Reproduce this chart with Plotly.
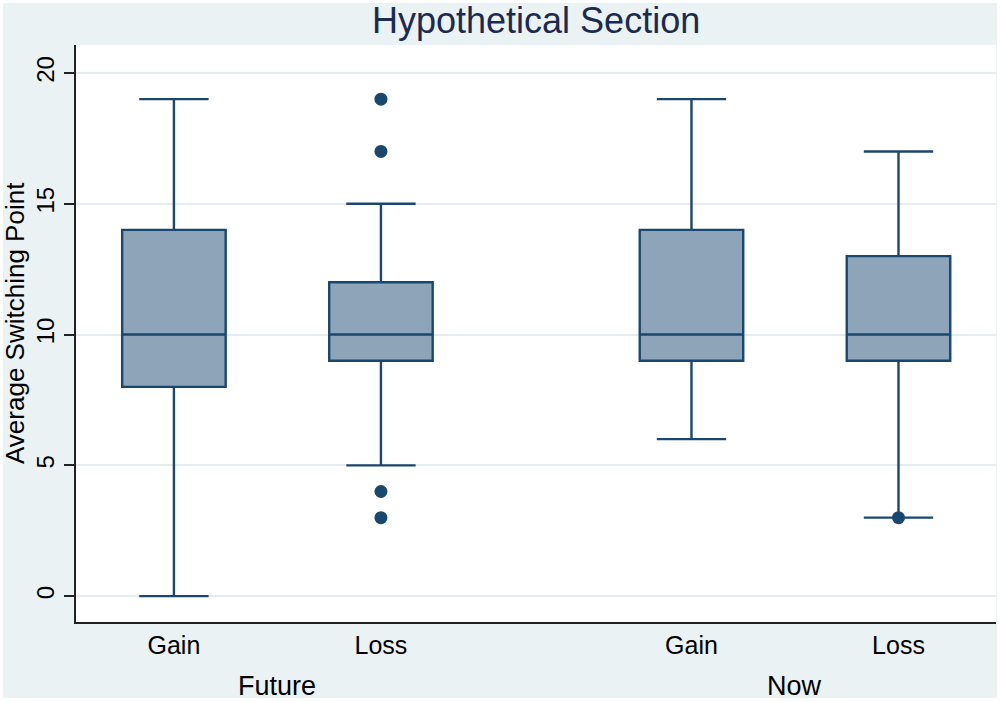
import plotly.graph_objects as go

# data
groups = ["Future", "Now"]
categories = ["Gain", "Loss", "Gain", "Loss"]
lower_whisker = [0, 5, 6, 3]
q1 = [8, 9, 9, 9]
median = [10, 10, 10, 10]
q3 = [14, 12, 14, 13]
upper_whisker = [19, 15, 19, 17]
outlier_box = [1, 1, 1, 1, 3]   # index into categories
outlier_vals = [19, 17, 4, 3, 3]
y_ticks = [0, 5, 10, 15, 20]

# layout helpers (pixel geometry of the picture)
W, H = 1000, 701
L, R, T, B = 76, 996, 45, 622
xpos = [1, 2, 3.5, 4.5]
group_pos = [1.5, 4.0]


def py(p):
    return (B - p) / (B - T)


def px(p):
    return (p - L) / (R - L)


navy = "#1a476f"
bg = "#eaf2f3"
font = "Liberation Sans, Arial, sans-serif"

fig = go.Figure()

fig.add_trace(go.Box(
    x=xpos,
    q1=q1, median=median, q3=q3,
    lowerfence=lower_whisker, upperfence=upper_whisker,
    boxpoints=False,
    width=0.5,
    whiskerwidth=0.67,
    fillcolor="#8ea5b9",
    line=dict(color=navy, width=2.4),
    showlegend=False,
    hoverinfo="skip",
))

fig.add_trace(go.Scatter(
    x=[xpos[i] for i in outlier_box],
    y=outlier_vals,
    mode="markers",
    marker=dict(color=navy, size=13, line=dict(width=0)),
    showlegend=False,
))

annots = [
    dict(text="Hypothetical Section", x=px(536), y=py(21), xref="paper", yref="paper",
         showarrow=False, xanchor="center", yanchor="middle",
         font=dict(family=font, size=36, color="#1c2a52")),
    dict(text="Average Switching Point", x=px(15), y=py(323), xref="paper", yref="paper",
         showarrow=False, xanchor="center", yanchor="middle", textangle=-90,
         font=dict(family=font, size=26, color="black")),
]
for g, gx in zip(groups, group_pos):
    annots.append(dict(text=g, x=gx, y=py(686), xref="x", yref="paper",
                       showarrow=False, xanchor="center", yanchor="middle",
                       font=dict(family=font, size=27, color="black")))

fig.update_layout(
    width=W, height=H,
    margin=dict(l=L, r=W - R, t=T, b=H - B, pad=0),
    paper_bgcolor=bg,
    plot_bgcolor="white",
    annotations=annots,
    shapes=[dict(type="rect", xref="paper", yref="paper",
                 x0=px(0), x1=px(W), y0=py(H), y1=py(0),
                 line=dict(color="white", width=6), fillcolor="rgba(0,0,0,0)",
                 layer="below")],
)

fig.update_xaxes(
    range=[0.527, 4.971],
    tickvals=xpos, ticktext=categories,
    ticks="", showgrid=False, zeroline=False,
    showline=True, linecolor="#222", linewidth=2,
    tickfont=dict(family=font, size=25, color="black"),
)
fig.update_yaxes(
    range=[-0.99, 21.07],
    tickvals=y_ticks, tickangle=-90,
    ticks="outside", ticklen=10, tickwidth=1.5, tickcolor="#222",
    showgrid=True, gridcolor="#e4ecef", gridwidth=1.5, zeroline=False,
    showline=True, linecolor="#222", linewidth=2,
    tickfont=dict(family=font, size=24, color="black"),
)

fig.write_html("out.html", config={"displayModeBar": False},
               post_script="document.body.style.margin='0px';")
